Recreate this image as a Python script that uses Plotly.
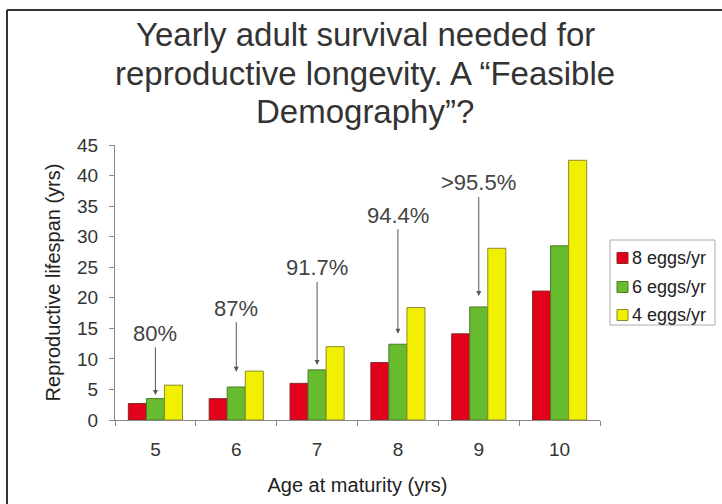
import plotly.graph_objects as go

categories = ["5", "6", "7", "8", "9", "10"]
series_names = ["8 eggs/yr", "6 eggs/yr", "4 eggs/yr"]
eggs8 = [2.7, 3.5, 6.0, 9.4, 14.1, 21.1]
eggs6 = [3.5, 5.4, 8.2, 12.4, 18.5, 28.5]
eggs4 = [5.7, 8.0, 12.0, 18.4, 28.1, 42.5]
survival_labels = ["80%", "87%", "91.7%", "94.4%", ">95.5%"]
label_categories = ["5", "6", "7", "8", "9"]
label_text_y = [14.2, 18.3, 24.9, 33.5, 38.8]
arrow_tip_y = [4.1, 7.9, 9.0, 14.1, 20.3]
title_lines = ["Yearly adult survival needed for",
               "reproductive longevity. A “Feasible",
               "Demography”?"]

colors = ["#e2001a", "#66bb2e", "#f0f000"]
edge_colors = ["#8a2a2a", "#4e7a2a", "#8a8a30"]

fig = go.Figure()
for name, vals, c, ec in zip(series_names, [eggs8, eggs6, eggs4], colors, edge_colors):
    fig.add_trace(go.Bar(x=categories, y=vals, name=name, showlegend=False,
                         marker=dict(color=c, line=dict(color=ec, width=1))))

font_family = "Liberation Sans, Arial, sans-serif"

for lab, cat, ty, tip in zip(survival_labels, label_categories, label_text_y, arrow_tip_y):
    idx = categories.index(cat)
    fig.add_annotation(x=idx, y=tip, ax=idx, ay=ty, axref="x", ayref="y",
                       xref="x", yref="y", text=lab, showarrow=True,
                       arrowhead=2, arrowsize=1, arrowwidth=1, arrowcolor="#555555",
                       font=dict(family=font_family, size=22, color="#444444"))

W, H = 722, 504
L, R, T, B = 115, 122, 145, 84
pw = W - L - R
ph = H - T - B
def px_x(x):
    return (x - L) / pw
def px_y(y):
    return (H - B - y) / ph

title_baselines = [45, 84, 123]
for line, base in zip(title_lines, title_baselines):
    fig.add_annotation(xref="paper", yref="paper", x=px_x(365), y=px_y(base - 11),
                       xanchor="center", yanchor="middle", showarrow=False,
                       text=line, font=dict(family=font_family, size=33, color="#333333"))

# outer frame (top and left edges)
fig.add_shape(type="line", xref="paper", yref="paper",
              x0=px_x(7), x1=px_x(722), y0=px_y(10), y1=px_y(10),
              line=dict(color="#333333", width=2))
fig.add_shape(type="line", xref="paper", yref="paper",
              x0=px_x(7), x1=px_x(7), y0=px_y(10), y1=px_y(504),
              line=dict(color="#333333", width=2))

# legend box drawn from the series names and colours
fig.add_shape(type="rect", xref="paper", yref="paper",
              x0=px_x(610), x1=px_x(715), y0=px_y(240), y1=px_y(325),
              line=dict(color="#aaaaaa", width=1), fillcolor="white")
legend_rows = [258, 287, 315]
for name, c, ec, row in zip(series_names, colors, edge_colors, legend_rows):
    fig.add_shape(type="rect", xref="paper", yref="paper",
                  x0=px_x(617), x1=px_x(628), y0=px_y(row - 5.5), y1=px_y(row + 5.5),
                  line=dict(color=ec, width=1), fillcolor=c)
    fig.add_annotation(xref="paper", yref="paper", x=px_x(630), y=px_y(row),
                       xanchor="left", yanchor="middle", showarrow=False,
                       text=name, font=dict(family=font_family, size=18, color="#222222"))

fig.update_layout(
    width=W, height=H,
    margin=dict(l=L, r=R, t=T, b=B, autoexpand=False),
    paper_bgcolor="white", plot_bgcolor="white",
    barmode="group", bargap=0.33, bargroupgap=0,
    font=dict(family=font_family, color="#333333", size=19),
    showlegend=False,
)
fig.update_xaxes(type="category", range=[-0.5, 5.5], showline=True, linecolor="#888888",
                 linewidth=1, ticks="outside", tickson="boundaries", ticklen=5,
                 tickcolor="#888888", showgrid=False, zeroline=False,
                 ticklabelstandoff=12, automargin=False,
                 title=dict(text="Age at maturity (yrs)", standoff=19,
                            font=dict(family=font_family, size=20, color="#222222")),
                 tickfont=dict(family=font_family, size=19, color="#333333"))
fig.update_yaxes(range=[0, 45], dtick=5, showline=True, linecolor="#888888",
                 linewidth=1, ticks="outside", ticklen=5, tickcolor="#888888",
                 showgrid=False, zeroline=False, ticklabelstandoff=7, automargin=False,
                 title=dict(text="Reproductive lifespan (yrs)", standoff=11,
                            font=dict(family=font_family, size=20, color="#222222")),
                 tickfont=dict(family=font_family, size=19, color="#333333"))

fig.write_html("out.html", config={"displayModeBar": False},
               post_script="document.body.style.margin='0';")
